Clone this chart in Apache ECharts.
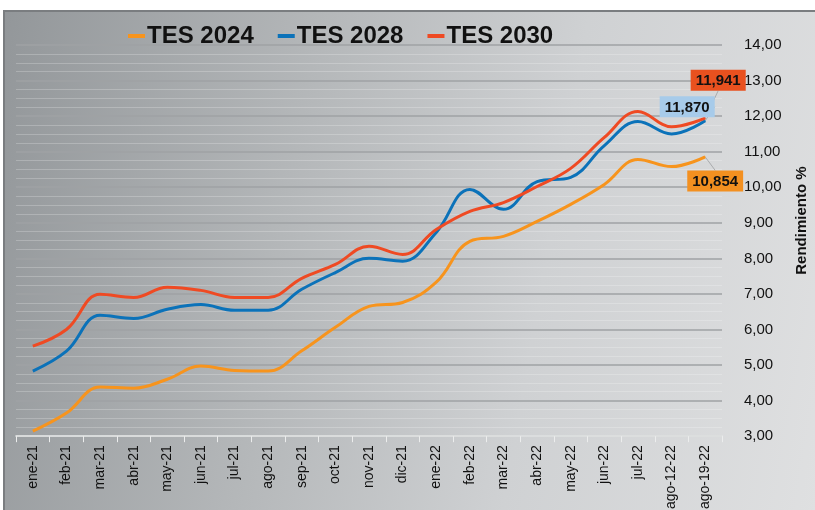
<!DOCTYPE html>
<html>
<head>
<meta charset="utf-8">
<script src="https://cdn.jsdelivr.net/npm/echarts@6/dist/echarts.min.js"></script>
<style>
  html, body { margin: 0; padding: 0; background: #fff; }
  .com-container {
    position: absolute; left: 3px; top: 10px; width: 812px; height: 500px;
    border-left: 2px solid #7a7d80; border-top: 2px solid #7a7d80;
    background: linear-gradient(100deg, #93979a 0%, #b4b7b9 35%, #cfd1d3 65%, #dfe0e1 100%);
  }
  .com-chart { width: 100%; height: 100%; }
</style>
</head>
<body>
<div class="com-container">
  <div class="com-chart" id="chart_ref"></div>
</div>
<script>
// categorias del eje x
const months = ['ene-21', 'feb-21', 'mar-21', 'abr-21', 'may-21', 'jun-21', 'jul-21', 'ago-21',
  'sep-21', 'oct-21', 'nov-21', 'dic-21', 'ene-22', 'feb-22', 'mar-22', 'abr-22', 'may-22',
  'jun-22', 'jul-22', 'ago-12-22', 'ago-19-22']

// rendimientos %
const tes2024 = [3.14, 3.65, 4.38, 4.35, 4.6, 4.97, 4.85, 4.83, 5.4, 6.06, 6.65, 6.76, 7.33,
  8.48, 8.62, 9.04, 9.52, 10.08, 10.78, 10.58, 10.854]
const tes2028 = [4.83, 5.39, 6.4, 6.31, 6.57, 6.7, 6.54, 6.54, 7.13, 7.6, 8.0, 7.92, 8.73,
  9.94, 9.38, 10.16, 10.28, 11.17, 11.85, 11.5, 11.87]
const tes2030 = [5.53, 6.0, 6.99, 6.9, 7.19, 7.1, 6.9, 6.9, 7.44, 7.83, 8.34, 8.11, 8.81,
  9.32, 9.57, 10.02, 10.53, 11.4, 12.13, 11.7, 11.941]

const fmt = (v, d) => v.toFixed(d).replace('.', ',')

// solo el ultimo punto lleva etiqueta (y un simbolo invisible para poder mostrarla)
function withLastLabel(arr, bg, color) {
  return arr.map((v, i) => {
    if (i !== arr.length - 1) return v
    return {
      value: v,
      symbol: 'circle',
      symbolSize: 1,
      label: {
        show: true,
        formatter: fmt(v, 3),
        backgroundColor: bg,
        color: color,
        fontWeight: 'bold',
        fontSize: 15,
        padding: [4, 5, 2, 5]
      }
    }
  })
}

function makeSeries(name, arr, color, bg, dx, dy) {
  return {
    name: name,
    type: 'line',
    smooth: 0.4,
    symbol: 'none',
    showSymbol: true,
    lineStyle: { width: 3, color: color },
    itemStyle: { color: color },
    label: { show: false, position: 'top', distance: 0 },
    labelLine: { show: true, lineStyle: { color: '#a9abad', width: 1 } },
    labelLayout: { dx: dx, dy: dy },
    data: withLastLabel(arr, bg, '#111')
  }
}

const chartInstance = echarts.init(document.getElementById('chart_ref'))
const option = {
  textStyle: { fontFamily: 'Liberation Sans, Arial, sans-serif' },
  animation: false,
  legend: {
    left: 118,
    top: 7,
    icon: 'rect',
    itemWidth: 17,
    itemHeight: 4,
    itemGap: 24,
    textStyle: { fontSize: 24, fontWeight: 'bold', color: '#111', padding: [0, 0, 0, -3] }
  },
  grid: { left: 11, right: 83, top: 33, bottom: 71 },
  xAxis: {
    type: 'category',
    data: months,
    boundaryGap: true,
    axisLine: { lineStyle: { color: '#eceded', width: 1.5 } },
    axisTick: { show: true, length: 6, lineStyle: { color: '#eceded' } },
    axisLabel: { rotate: 90, fontSize: 14, color: '#111', margin: 9 }
  },
  yAxis: {
    type: 'value',
    position: 'right',
    min: 3,
    max: 14,
    interval: 1,
    name: 'Rendimiento %',
    nameLocation: 'middle',
    nameRotate: 90,
    nameGap: 72,
    nameTextStyle: { fontSize: 15, fontWeight: 'bold', color: '#111', padding: [0, 0, 0, 40] },
    axisLine: { show: false },
    axisTick: { show: false },
    axisLabel: { fontSize: 15, color: '#111', margin: 22, formatter: v => fmt(v, 2) },
    splitLine: { lineStyle: { color: '#9fa2a5', width: 1.5 } },
    minorTick: { show: false, splitNumber: 4 },
    minorSplitLine: { show: true, lineStyle: { color: 'rgba(255,255,255,0.22)', width: 1 } }
  },
  series: [
    makeSeries('TES 2024', tes2024, '#f7941d', '#f39020', 10, 35),
    makeSeries('TES 2028', tes2028, '#0b72b9', '#a7cbea', -18, -3),
    makeSeries('TES 2030', tes2030, '#ef4a23', '#e9511f', 13, -27)
  ]
}
chartInstance.setOption(option)
</script>
</body>
</html>
